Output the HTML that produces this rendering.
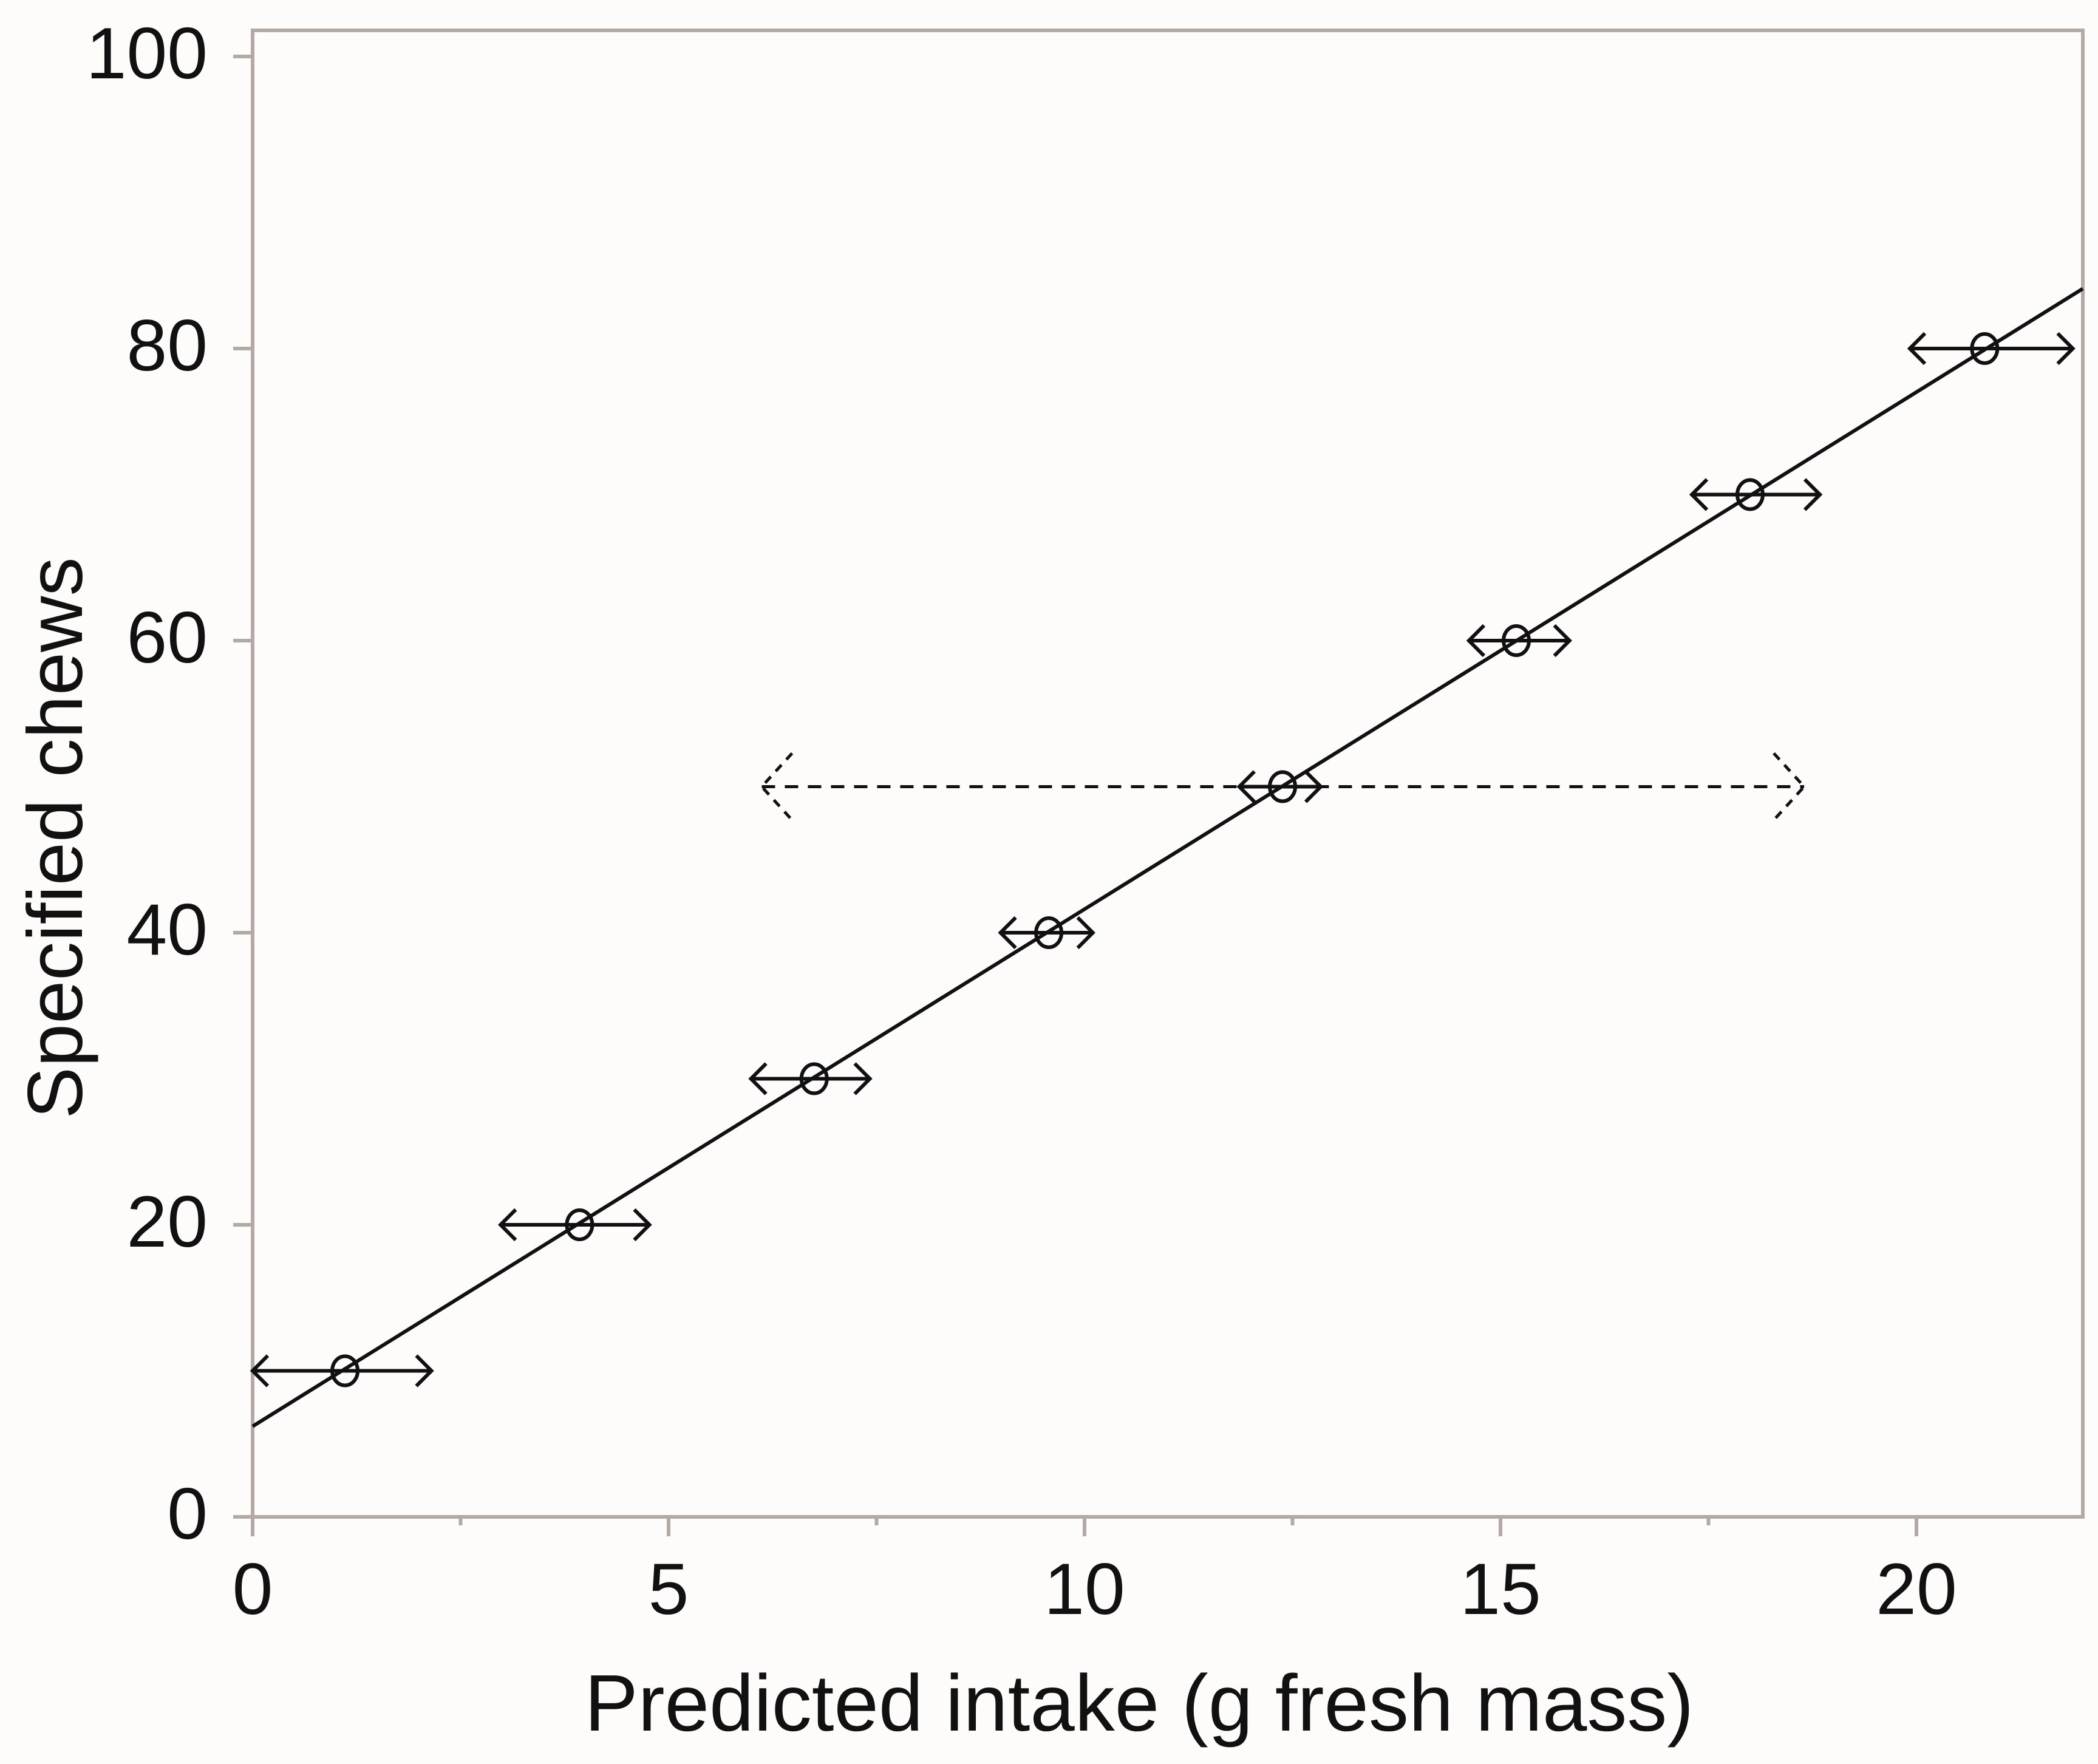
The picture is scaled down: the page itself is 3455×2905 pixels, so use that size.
<!DOCTYPE html>
<html><head><meta charset="utf-8"><style>
html,body{margin:0;padding:0;background:#fdfcfb;}
svg{display:block;}
text{font-family:"Liberation Sans",sans-serif;fill:#111;}
</style></head><body>
<svg id="chart" width="3455" height="2905" viewBox="0 0 3455 2905" xmlns="http://www.w3.org/2000/svg">
<rect x="0" y="0" width="3455" height="2905" fill="#fdfcfb"/>
<g id="axes"></g>
<g id="marks"></g>
<text x="1876" y="2850" font-size="132" text-anchor="middle">Predicted intake (g fresh mass)</text>
<text transform="translate(135,1380) rotate(-90)" font-size="128" text-anchor="middle">Specified chews</text>
</svg>
<script>
const xTicks=[0,5,10,15,20];
const yTicks=[0,20,40,60,80,100];
const pointX=[1.11,3.93,6.75,9.57,12.38,15.19,18.0,20.82];
const pointY=[10,20,30,40,50,60,70,80];
const errLow=[0,2.98,5.99,8.99,11.86,14.62,17.3,19.92];
const errHigh=[2.15,4.77,7.42,10.1,12.84,15.83,18.84,21.88];
const wideLow=[6.12];
const wideHigh=[18.65];
const wideY=[50];
const fitX=[0,22];
const fitY=[6.2,84.1];

const L=416,R=3430,B=2498,T=50;
const sx=v=>L+v*(1101-416)/5;
const sy=v=>B-v*(2498-93)/100;
const NS='http://www.w3.org/2000/svg';
function mk(tag,attrs,parent){const e=document.createElementNS(NS,tag);for(const k in attrs)e.setAttribute(k,attrs[k]);parent.appendChild(e);return e;}
const ax=document.getElementById('axes'),mg=document.getElementById('marks');
const axc='#b3aaa6';
let f=mk('rect',{x:L,y:T,width:R-L,height:B-T,fill:'none',stroke:axc,'stroke-width':6},ax);


xTicks.forEach(v=>{
  let t=mk('line',{x1:sx(v),x2:sx(v),y1:B,y2:B+32,stroke:axc,'stroke-width':6},ax);
  
  
  let m=mk('line',{x1:sx(v+2.5),x2:sx(v+2.5),y1:B,y2:B+14,stroke:axc,'stroke-width':6},ax);
  
  
  let tx=mk('text',{x:sx(v),y:B+160,'font-size':120,'text-anchor':'middle'},ax);
  tx.textContent=v;
  
  
});
yTicks.forEach(v=>{
  let t=mk('line',{x1:L-32,x2:L,y1:sy(v),y2:sy(v),stroke:axc,'stroke-width':6},ax);
  
  
  let tx=mk('text',{x:L-74,y:sy(v)+36,'font-size':120,'text-anchor':'end'},ax);
  tx.textContent=v;
  
  
});
let fl=mk('line',{x1:sx(fitX[0]),y1:sy(fitY[0]),x2:sx(fitX[1]),y2:sy(fitY[1]),stroke:'#111','stroke-width':6},mg);


function arrow(x1,x2,y,dash,name){
  const g=mk('g',{stroke:'#111','stroke-width':dash?5:6,fill:'none','stroke-dasharray':dash?'22 16':'none'},mg);
  
  
  const h=dash?55:25,w=dash?50:25;
  mk('line',{x1:x1,x2:x2,y1:y,y2:y},g);
  mk('polyline',{points:`${x1+w},${y-h} ${x1},${y} ${x1+w},${y+h}`,'stroke-dasharray':dash?'14 12':'none'},g);
  mk('polyline',{points:`${x2-w},${y-h} ${x2},${y} ${x2-w},${y+h}`,'stroke-dasharray':dash?'14 12':'none'},g);
}
wideY.forEach((y,i)=>arrow(sx(wideLow[i]),sx(wideHigh[i]),sy(y),true,'wide-interval-arrow'));
pointX.forEach((x,i)=>{
  arrow(sx(errLow[i]),sx(errHigh[i]),sy(pointY[i]),false,'interval-arrow');
  let c=mk('ellipse',{cx:sx(x),cy:sy(pointY[i]),rx:21,ry:24,fill:'none',stroke:'#111','stroke-width':6},mg);
  
  
});
</script>
</body></html>
